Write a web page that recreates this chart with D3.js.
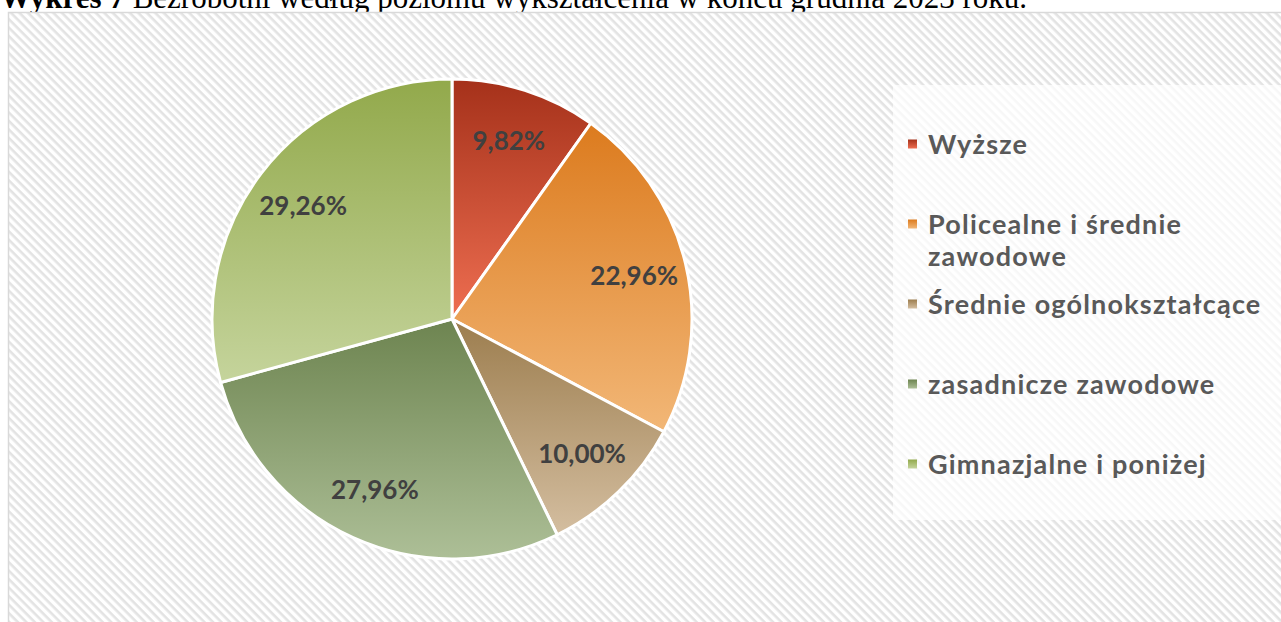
<!DOCTYPE html>
<html>
<head>
<meta charset="utf-8">
<script src="https://cdn.jsdelivr.net/npm/d3@7"></script>
<style>
  html, body { margin: 0; padding: 0; background: #fff; overflow: hidden; }
</style>
</head>
<body>
<div id="chart"></div>
<script>
// data
var categories = ["Wyższe", "Policealne i średnie zawodowe", "Średnie ogólnokształcące", "zasadnicze zawodowe", "Gimnazjalne i poniżej"];
var legendLines = [["Wyższe"], ["Policealne i średnie", "zawodowe"], ["Średnie ogólnokształcące"], ["zasadnicze zawodowe"], ["Gimnazjalne i poniżej"]];
var shares = [9.82, 22.96, 10.00, 27.96, 29.26];
var topColors = ["#a5311a", "#dc7b1e", "#9c7d4e", "#6d8450", "#92a94b"];
var bottomColors = ["#ee6e51", "#f2b777", "#d4bea0", "#adbf97", "#c5d49c"];

var width = 1281, height = 622;
var cx = 452, cy = 319, radius = 240;

var svg = d3.select("#chart").append("svg")
    .attr("width", width)
    .attr("height", height);

var defs = svg.append("defs");

// wide downward diagonal hatch like the office chart area
var pat = defs.append("pattern")
    .attr("id", "hatch")
    .attr("patternUnits", "userSpaceOnUse")
    .attr("width", 6).attr("height", 6)
    .attr("patternTransform", "rotate(45)");
pat.append("rect").attr("width", 6).attr("height", 6).attr("fill", "#ffffff");
pat.append("rect").attr("width", 6).attr("height", 2.6).attr("fill", "#e3e3e3");

categories.forEach(function(c, i){
    var g = defs.append("linearGradient")
        .attr("id", "grad" + i)
        .attr("x1", 0).attr("y1", 0).attr("x2", 0).attr("y2", 1);
    g.append("stop").attr("offset", "0%").attr("stop-color", topColors[i]);
    g.append("stop").attr("offset", "100%").attr("stop-color", bottomColors[i]);
});

// title (cut by the top edge in the reference)
var title = svg.append("text")
    .attr("x", 0).attr("y", 8)
    .style("font-family", "'Liberation Serif', 'Times New Roman', serif")
    .style("font-size", "31px")
    .attr("fill", "#000");
title.append("tspan").style("font-weight", "bold").text("Wykres 7");
title.append("tspan").text(" Bezrobotni według poziomu wykształcenia w końcu grudnia 2023 roku.");

// chart area
svg.append("rect")
    .attr("x", 8.5).attr("y", 12.5)
    .attr("width", width).attr("height", height)
    .attr("fill", "url(#hatch)")
    .attr("stroke", "#d9d9d9")
    .attr("stroke-width", 1.5);

// pie
var pie = d3.pie().sort(null).value(function(d){ return d; });
var arcs = pie(shares);
var arc = d3.arc().innerRadius(0).outerRadius(radius);
var labelArc = d3.arc().innerRadius(radius * 0.78).outerRadius(radius * 0.78);

var pieG = svg.append("g").attr("transform", "translate(" + cx + "," + cy + ")");

pieG.selectAll("path.slice")
    .data(arcs)
    .enter().append("path")
    .attr("class", "slice")
    .attr("d", arc)
    .attr("fill", function(d, i){ return "url(#grad" + i + ")"; })
    .attr("stroke", "#ffffff")
    .attr("stroke-width", 3)
    .attr("stroke-linejoin", "round");

var fmt = function(v){ return v.toFixed(2).replace(".", ",") + "%"; };

pieG.selectAll("text.lbl")
    .data(arcs)
    .enter().append("text")
    .attr("class", "lbl")
    .attr("transform", function(d){ return "translate(" + labelArc.centroid(d) + ")"; })
    .attr("text-anchor", "middle")
    .attr("dy", "0.36em")
    .style("font-family", "Lato, 'Open Sans', sans-serif")
    .style("font-weight", "bold")
    .style("font-size", "26px")
    .attr("fill", "#404040")
    .text(function(d){ return fmt(d.data); });

// legend
svg.append("rect")
    .attr("x", 893).attr("y", 85)
    .attr("width", 400).attr("height", 435)
    .attr("fill", "#ffffff")
    .attr("fill-opacity", 0.72);

var legendY = d3.scalePoint().domain(categories).range([144, 464]);

var leg = svg.selectAll("g.leg")
    .data(categories)
    .enter().append("g")
    .attr("class", "leg")
    .attr("transform", function(d){ return "translate(908," + legendY(d) + ")"; });

leg.append("rect")
    .attr("x", 0).attr("y", -4.5)
    .attr("width", 9).attr("height", 9)
    .attr("fill", function(d, i){ return "url(#grad" + i + ")"; });

leg.append("text")
    .attr("x", 20)
    .style("font-family", "Lato, 'Open Sans', sans-serif")
    .style("font-weight", "bold")
    .style("font-size", "27px")
    .style("letter-spacing", "1.2px")
    .attr("fill", "#595959")
    .each(function(d, i){
        var t = d3.select(this);
        legendLines[i].forEach(function(line, j){
            t.append("tspan")
                .attr("x", 20)
                .attr("y", j * 32)
                .attr("dy", "0.36em")
                .text(line);
        });
    });
</script>
</body>
</html>
